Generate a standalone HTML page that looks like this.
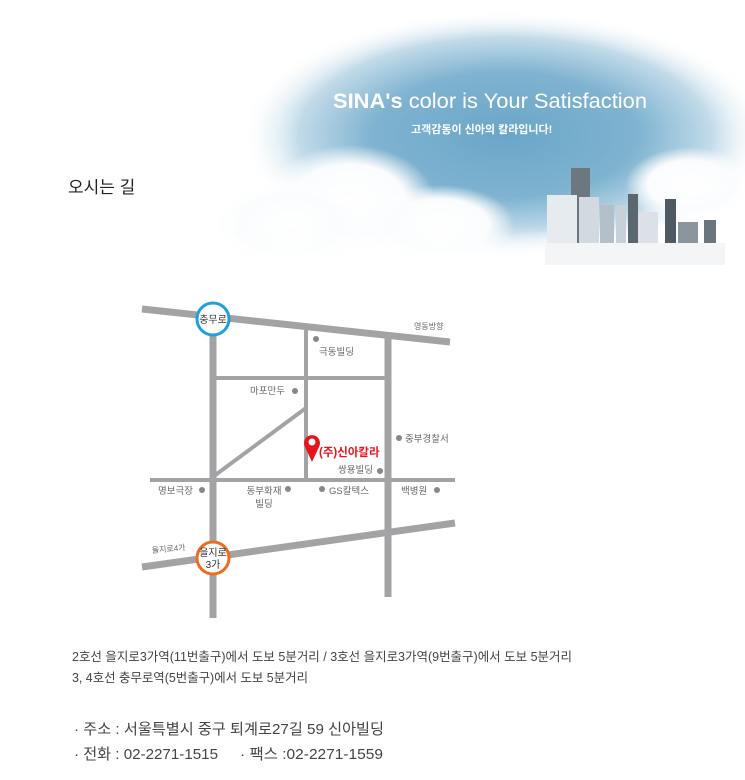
<!DOCTYPE html>
<html><head><meta charset="utf-8"><style>
html,body{margin:0;padding:0;background:#fff;width:745px;height:780px;overflow:hidden}
svg{display:block}
text{font-family:"Liberation Sans","Noto Sans CJK KR",sans-serif}
</style></head><body>
<svg width="745" height="780" viewBox="0 0 745 780" xmlns="http://www.w3.org/2000/svg">
<defs>
<radialGradient id="sky" cx="0.5" cy="0.5" r="0.5">
<stop offset="0" stop-color="#6aa6c9"/>
<stop offset="0.5" stop-color="#7fb3d0"/>
<stop offset="0.78" stop-color="#c2dbe9"/>
<stop offset="1" stop-color="#ffffff" stop-opacity="0"/>
</radialGradient>
<radialGradient id="cloud" cx="0.5" cy="0.5" r="0.5">
<stop offset="0" stop-color="#fff"/>
<stop offset="0.65" stop-color="#fafcfd"/>
<stop offset="1" stop-color="#fff" stop-opacity="0"/>
</radialGradient>
<linearGradient id="fade" x1="0" y1="0" x2="0" y2="1">
<stop offset="0" stop-color="#fff" stop-opacity="0"/>
<stop offset="1" stop-color="#fff"/>
</linearGradient>
</defs>
<ellipse cx="505" cy="135" rx="265" ry="125" fill="url(#sky)"/>
<ellipse cx="350" cy="200" rx="85" ry="55" fill="url(#cloud)"/>
<ellipse cx="440" cy="225" rx="75" ry="40" fill="url(#cloud)"/>
<ellipse cx="290" cy="225" rx="80" ry="45" fill="url(#cloud)"/>
<ellipse cx="690" cy="185" rx="65" ry="38" fill="url(#cloud)"/>
<rect x="230" y="225" width="515" height="50" fill="url(#fade)"/>
<!-- buildings -->
<g>
<rect x="571" y="168" width="19" height="75" fill="#6c7780"/>
<rect x="547" y="195" width="30" height="48" fill="#e6ebef"/>
<rect x="579" y="197" width="20" height="46" fill="#d3dadf"/>
<rect x="600" y="205" width="14" height="38" fill="#b5bfc7"/>
<rect x="628" y="194" width="10" height="49" fill="#5c666e"/>
<rect x="616" y="205" width="10" height="38" fill="#c8d1d7"/>
<rect x="638" y="212" width="20" height="31" fill="#dbe1e6"/>
<rect x="665" y="199" width="11" height="44" fill="#4f5961"/>
<rect x="678" y="222" width="20" height="21" fill="#8a959e"/>
<rect x="704" y="220" width="12" height="23" fill="#6a757e"/>
</g>
<rect x="545" y="243" width="180" height="22" fill="#f3f5f7"/>
<text x="333" y="108" font-size="21" fill="#fff" textLength="314" lengthAdjust="spacingAndGlyphs"><tspan font-weight="bold">SINA's</tspan> color is Your Satisfaction</text>
<text x="411" y="133" font-size="11" fill="#fff" font-weight="bold">고객감동이 신아의 칼라입니다!</text>
<text x="68" y="193" font-size="17" fill="#222">오시는 길</text>

<g stroke="#a3a3a5" stroke-width="7" fill="none">
<line x1="142" y1="309" x2="450" y2="342"/>
<line x1="213" y1="318" x2="213" y2="618"/>
<line x1="388" y1="338" x2="388" y2="597"/>
<line x1="142" y1="567" x2="455" y2="523"/>
</g>
<g stroke="#a3a3a5" stroke-width="4" fill="none">
<line x1="306" y1="330" x2="306" y2="480"/>
<line x1="213" y1="378" x2="388" y2="378"/>
<line x1="150" y1="480" x2="455" y2="480"/>
<line x1="306" y1="408" x2="214" y2="476"/>
</g>
<circle cx="213" cy="319" r="16" fill="#fff" stroke="#1ea0e0" stroke-width="3"/>
<text x="213" y="323" font-size="10" fill="#333" text-anchor="middle">충무로</text>
<circle cx="213" cy="558" r="16" fill="#fff" stroke="#ef6b1e" stroke-width="3"/>
<text x="213" y="556" font-size="10" fill="#333" text-anchor="middle">을지로</text>
<text x="213" y="568" font-size="10" fill="#333" text-anchor="middle">3가</text>
<g fill="#666" font-size="9.5">
<text x="414" y="329" font-size="8">영동방향</text>
<text x="152" y="553" font-size="8" transform="rotate(-5 152 553)">을지로4가</text>
<text x="319" y="355">극동빌딩</text>
<text x="285" y="394" text-anchor="end">마포만두</text>
<text x="405" y="442">중부경찰서</text>
<text x="373" y="473" text-anchor="end">쌍용빌딩</text>
<text x="193" y="494" text-anchor="end">명보극장</text>
<text x="264" y="494" text-anchor="middle">동부화재</text>
<text x="264" y="507" text-anchor="middle">빌딩</text>
<text x="329" y="494">GS칼텍스</text>
<text x="401" y="494">백병원</text>
</g>
<g fill="#888">
<circle cx="316" cy="339" r="3"/>
<circle cx="295" cy="391" r="3"/>
<circle cx="399" cy="438" r="3"/>
<circle cx="380" cy="471" r="3"/>
<circle cx="202" cy="490" r="3"/>
<circle cx="288" cy="489" r="3"/>
<circle cx="322" cy="489" r="3"/>
<circle cx="437" cy="490" r="3"/>
</g>
<path d="M312 462 L305 447 A8 8 0 1 1 319 447 Z" fill="#e8141c"/>
<circle cx="312" cy="442" r="3.5" fill="#fff"/>
<text x="319" y="456" font-size="11.5" font-weight="bold" fill="#e8141c">(주)신아칼라</text>

<text x="72" y="661" font-size="12.5" fill="#444" textLength="500" lengthAdjust="spacingAndGlyphs">2호선 을지로3가역(11번출구)에서 도보 5분거리 / 3호선 을지로3가역(9번출구)에서 도보 5분거리</text>
<text x="72" y="682" font-size="12.5" fill="#444" textLength="236" lengthAdjust="spacingAndGlyphs">3, 4호선 충무로역(5번출구)에서 도보 5분거리</text>
<text x="74" y="734" font-size="15" fill="#444" textLength="310" lengthAdjust="spacingAndGlyphs">· 주소 : 서울특별시 중구 퇴계로27길 59 신아빌딩</text>
<text x="74" y="759" font-size="15" fill="#444" textLength="144" lengthAdjust="spacingAndGlyphs">· 전화 : 02-2271-1515</text>
<text x="240" y="759" font-size="15" fill="#444" textLength="143" lengthAdjust="spacingAndGlyphs">· 팩스  :02-2271-1559</text>
</svg>
</body></html>
